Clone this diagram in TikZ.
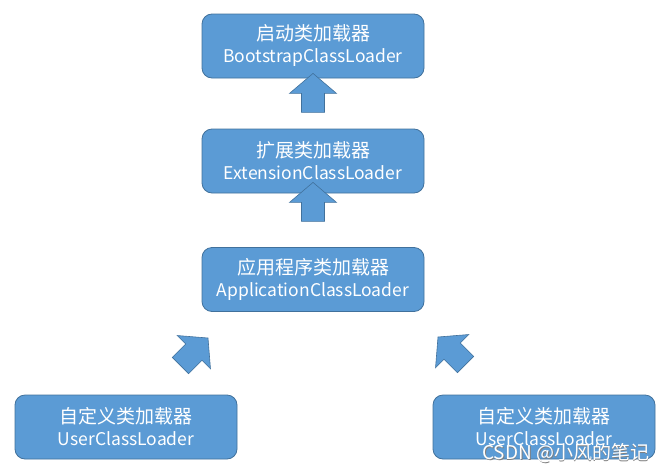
\documentclass[tikz,border=0pt]{standalone}
\usepackage{fontspec}
\setmainfont{Noto Sans CJK SC}
\definecolor{boxfill}{HTML}{5B9BD5}
\definecolor{boxline}{HTML}{41719C}
\definecolor{wmgray}{HTML}{808080}
\tikzset{
  loader/.style={draw=boxline, fill=boxfill, line width=0.8pt, rounded corners=10pt,
    minimum width=222pt, minimum height=64pt, align=center, text=white, inner sep=0pt,
    font=\fontsize{17.5}{22}\selectfont},
  blockarrow/.style={draw=boxline, fill=boxfill, line width=0.6pt}
}
\newcommand{\cn}[1]{{\fontsize{19}{22}\selectfont #1}}
\newcommand{\uparrowshape}{(0,0) -- (23.5,20) -- (11.5,20) -- (11.5,39) -- (-11.5,39) -- (-11.5,20) -- (-23.5,20) -- cycle}
\begin{document}
\begin{tikzpicture}[x=1pt,y=-1pt]
\useasboundingbox (0,0) rectangle (671,471);
\node[loader] (boot) at (313,46) {\cn{启动类加载器}\\BootstrapClassLoader};
\node[loader] (ext) at (313,161) {\cn{扩展类加载器}\\ExtensionClassLoader};
\node[loader] (app) at (313,279.5) {\cn{应用程序类加载器}\\ApplicationClassLoader};
\node[loader] (user1) at (126,427) {\cn{自定义类加载器}\\UserClassLoader};
\node[loader] (user2) at (544,427) {\cn{自定义类加载器}\\UserClassLoader};
% block arrows
\coordinate (a1) at ([yshift=5pt]boot.south);
\coordinate (a2) at ([yshift=11pt]ext.south);
\coordinate (a3) at (208,338);
\coordinate (a4) at (438,337);
\draw[blockarrow, shift={(a1)}] \uparrowshape;
\draw[blockarrow, shift={(a2)}] \uparrowshape;
\draw[blockarrow, shift={(a3)}, rotate=-45] \uparrowshape;
\draw[blockarrow, shift={(a4)}, rotate=45] \uparrowshape;
% watermark
\node[text=wmgray, anchor=west, inner sep=0pt] (wms) at (482.8,453.8) {\fontsize{19}{20}\selectfont CSDN @小风的笔记};
\node[text=white, anchor=west, inner sep=0pt] (wm) at (482,453) {\fontsize{19}{20}\selectfont CSDN @小风的笔记};
\end{tikzpicture}
\end{document}
